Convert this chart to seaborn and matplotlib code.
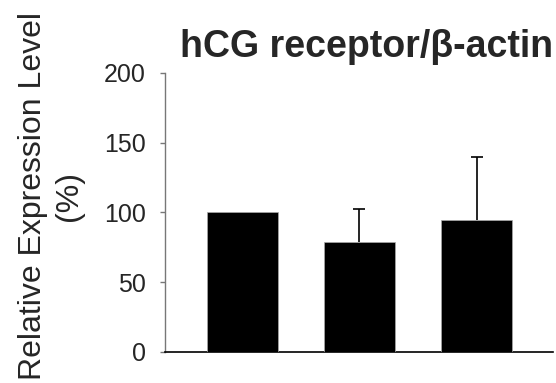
import numpy as np
import pandas as pd
import matplotlib
matplotlib.use("Agg")
import matplotlib.pyplot as plt
import seaborn as sns

# values
groups = ["Group 1", "Group 2", "Group 3"]
expression = [100, 79, 94.5]
sd_upper = [0, 23.5, 45.5]
y_ticks = [0, 50, 100, 150, 200]

sns.set_style("white")
plt.rcParams['font.family'] = ['Liberation Sans', 'DejaVu Sans']

data = pd.DataFrame({'group': groups, 'expression': expression,
                     'sd': sd_upper})

fig = plt.figure(figsize=(5.56, 3.83), dpi=100)
ax = fig.add_axes([0.2968, 0.0817, 0.6978, 0.7277])

sns.barplot(data=data, x='group', y='expression', color='black',
            saturation=1, width=0.605, errorbar=None,
            edgecolor='#aaaaaa', linewidth=0.5, ax=ax)
for p in ax.patches:
    p.set_zorder(3)

# one-sided (upper) error bars, only where there is an error
data['pos'] = np.arange(len(groups))
err = data[data['sd'] > 0]
_, caps, _ = ax.errorbar(err['pos'], err['expression'],
                         yerr=[np.zeros(len(err)), err['sd']],
                         fmt='none', ecolor='black', elinewidth=1.2,
                         capsize=4, capthick=1.2, zorder=2)
for cap in caps:
    if np.allclose(cap.get_ydata(), err['expression']):
        cap.set_visible(False)

ax.set_xlim(-0.658, 2.65)
ax.set_ylim(0, 200)
ax.set_yticks(y_ticks)
ax.set_yticklabels([str(t) for t in y_ticks], fontsize=18)
ax.set_xticks([])
ax.set_xlabel('')
ax.tick_params(axis='y', direction='out', length=3.5, width=1,
               color='#777777', pad=10.5, left=True)

sns.despine(ax=ax)
ax.spines['left'].set_color('#777777')
ax.spines['left'].set_linewidth(1)
ax.spines['bottom'].set_color('black')
ax.spines['bottom'].set_linewidth(1.2)

ax.set_ylabel('Relative Expression Level\n(%)', fontsize=23, linespacing=1.25)
ax.yaxis.set_label_coords(-0.209, 0.56)

ax.set_title('hCG receptor/β-actin', fontsize=27, fontweight='bold',
             x=0.52, pad=11.5)

fig.savefig('out.png', dpi=100)
